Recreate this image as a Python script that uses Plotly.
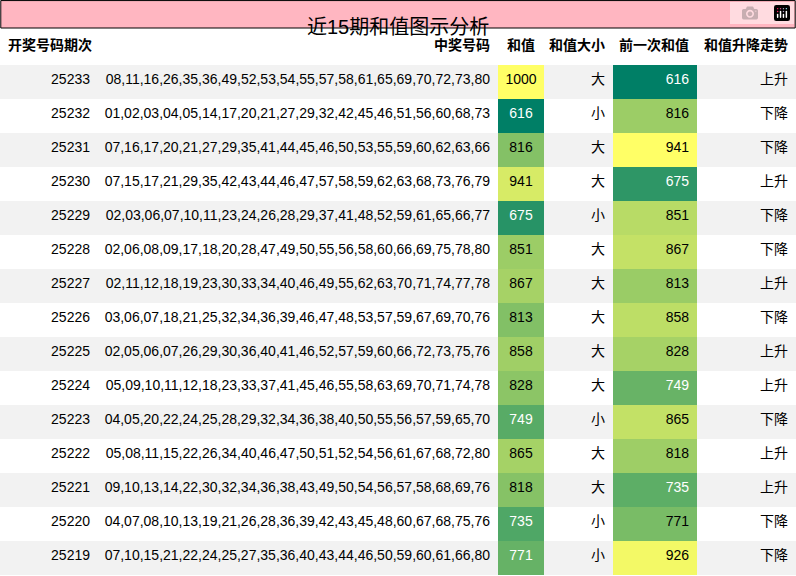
import plotly.graph_objects as go

periods = ["25233","25232","25231","25230","25229","25228","25227","25226","25225","25224","25223","25222","25221","25220","25219"]
numbers = [
"08,11,16,26,35,36,49,52,53,54,55,57,58,61,65,69,70,72,73,80",
"01,02,03,04,05,14,17,20,21,27,29,32,42,45,46,51,56,60,68,73",
"07,16,17,20,21,27,29,35,41,44,45,46,50,53,55,59,60,62,63,66",
"07,15,17,21,29,35,42,43,44,46,47,57,58,59,62,63,68,73,76,79",
"02,03,06,07,10,11,23,24,26,28,29,37,41,48,52,59,61,65,66,77",
"02,06,08,09,17,18,20,28,47,49,50,55,56,58,60,66,69,75,78,80",
"02,11,12,18,19,23,30,33,34,40,46,49,55,62,63,70,71,74,77,78",
"03,06,07,18,21,25,32,34,36,39,46,47,48,53,57,59,67,69,70,76",
"02,05,06,07,26,29,30,36,40,41,46,52,57,59,60,66,72,73,75,76",
"05,09,10,11,12,18,23,33,37,41,45,46,55,58,63,69,70,71,74,78",
"04,05,20,22,24,25,28,29,32,34,36,38,40,50,55,56,57,59,65,70",
"05,08,11,15,22,26,34,40,46,47,50,51,52,54,56,61,67,68,72,80",
"09,10,13,14,22,30,32,34,36,38,43,49,50,54,56,57,58,68,69,76",
"04,07,08,10,13,19,21,26,28,36,39,42,43,45,48,60,67,68,75,76",
"07,10,15,21,22,24,25,27,35,36,40,43,44,46,50,59,60,61,66,80",
]
sums = [1000,616,816,941,675,851,867,813,858,828,749,865,818,735,771]
sizes = ["大","小","大","大","小","大","大","大","大","大","小","大","大","小","小"]
prev_sums = [616,816,941,675,851,867,813,858,828,749,865,818,735,771,926]
trends = ["上升","下降","下降","上升","下降","下降","上升","下降","上升","上升","下降","上升","上升","下降","下降"]
headers = ["开奖号码期次","中奖号码","和值","和值大小","前一次和值","和值升降走势"]

def summer(vals):
    lo, hi = min(vals), max(vals)
    fills, fonts = [], []
    for v in vals:
        t = (v - lo) / (hi - lo)
        r, g, b = int(255*t), int(255*(0.5+0.5*t)), 102
        fills.append(f"rgb({r},{g},{b})")
        fonts.append("white" if t < 0.45 else "black")
    return fills, fonts

stripe = ["#f2f2f2" if i % 2 == 0 else "white" for i in range(len(periods))]
f1, c1 = summer(sums)
f2, c2 = summer(prev_sums)
black = ["black"]*len(periods)
FONT = "Liberation Sans, Noto Sans CJK SC"

fig = go.Figure(go.Table(
    columnwidth=[98, 400, 46, 69, 84, 99],
    domain=dict(x=[0, 1], y=[0, 1-29/576]),
    header=dict(values=[f"<b>{h}</b>" for h in headers], height=36,
                fill_color="white", line=dict(width=0),
                align=["left","right","center","right","right","right"],
                font=dict(size=14, color="black", family=FONT)),
    cells=dict(values=[periods, numbers, sums, sizes, prev_sums, trends], height=34,
               fill_color=[stripe, stripe, f1, stripe, f2, stripe], line=dict(width=0),
               align=["right","right","center","right","right","right"],
               font=dict(size=14, family=FONT,
                         color=[black, black, c1, black, c2, black])),
))
fig.update_layout(
    width=796, height=576, margin=dict(l=0, r=0, t=0, b=0), paper_bgcolor="white",
    shapes=[
        dict(type="rect", xref="paper", yref="paper", x0=0.001, x1=0.999,
             y0=1-28/576, y1=0.999, fillcolor="#ffb6c1", line=dict(color="black", width=1), layer="below"),
    ],
    annotations=[dict(text="近15期和值图示分析", xref="paper", yref="paper", x=0.5, y=1-14/576,
                      showarrow=False, font=dict(size=20, color="black", family=FONT))],
)
fig.write_html("out.html", post_script="document.body.style.margin='0';document.body.style.overflow='hidden';")
